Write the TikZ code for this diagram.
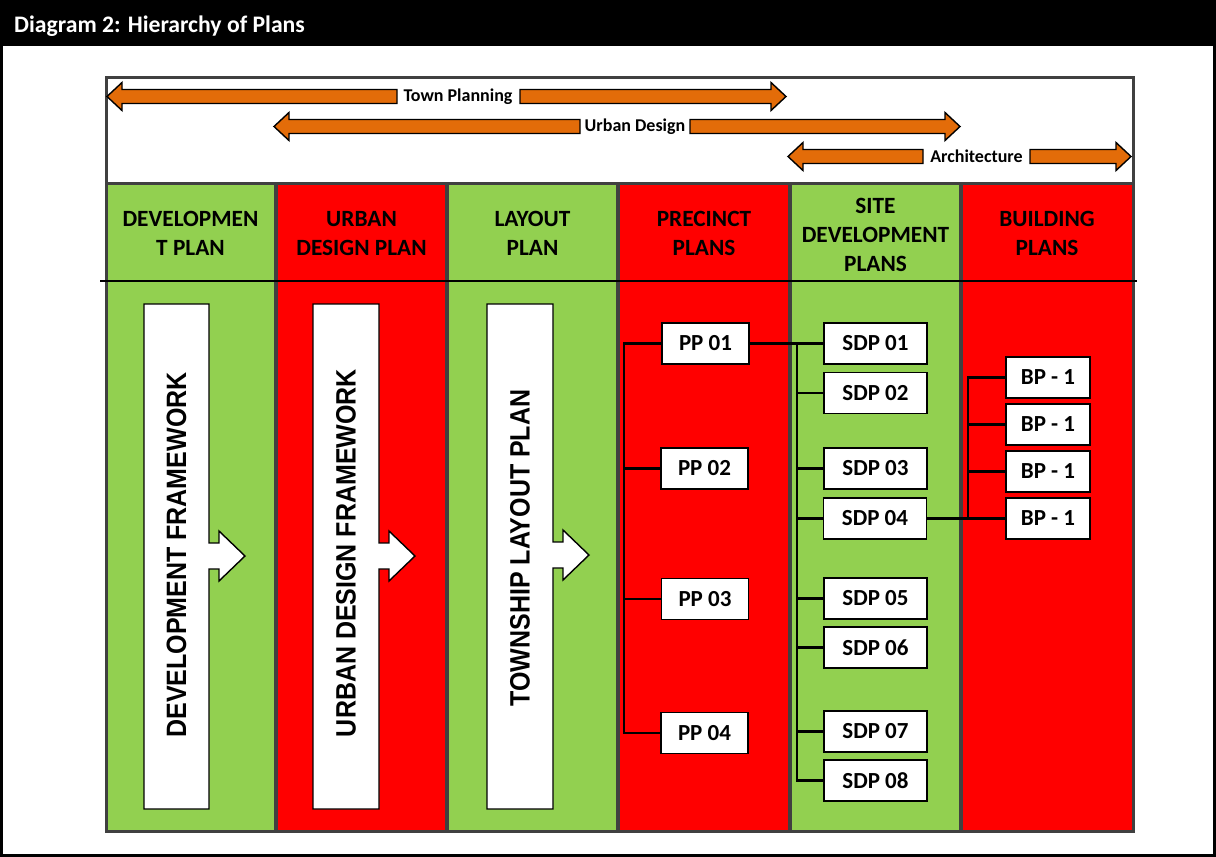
\documentclass[tikz,border=0pt]{standalone}
\usepackage{fontspec}
\setmainfont{Carlito}
\newfontfamily\arialf{Liberation Sans}
\definecolor{pgreen}{HTML}{92D050}
\definecolor{pred}{HTML}{FF0000}
\definecolor{porange}{HTML}{E36C09}
\definecolor{pgray}{HTML}{404040}
\tikzset{
  orangearrow/.style={fill=porange, draw=black, line width=1.4pt, line join=miter},
  colhead/.style={align=center, font=\fontsize{23.3}{29}\selectfont\bfseries, inner sep=0pt},
  bandlabel/.style={font=\fontsize{18}{20}\selectfont\bfseries, inner sep=0pt},
  planbox/.style={draw=black, fill=white, line width=1.8pt, minimum height=41pt, inner sep=0pt, font=\fontsize{23}{26}\selectfont\bfseries},
  ppbox/.style={planbox, minimum width=87pt},
  sdpbox/.style={planbox, minimum width=103pt},
  bpbox/.style={planbox, minimum width=84pt},
  link/.style={draw=black, line width=2.3pt},
  callout/.style={draw=black, fill=white, line width=1.4pt, line join=miter},
  vtext/.style={rotate=90, font=\arialf\bfseries\fontsize{25}{30}\selectfont, inner sep=0pt}
}
\newcommand{\leftpart}[3]{% tip x, end x, y
  \draw[orangearrow] (#1,#3) -- (#1+15,#3-14) -- (#1+15,#3-7) -- (#2,#3-7) -- (#2,#3+7) -- (#1+15,#3+7) -- (#1+15,#3+14) -- cycle;}
\newcommand{\rightpart}[3]{% tip x, start x, y
  \draw[orangearrow] (#1,#3) -- (#1-15,#3-14) -- (#1-15,#3-7) -- (#2,#3-7) -- (#2,#3+7) -- (#1-15,#3+7) -- (#1-15,#3+14) -- cycle;}
\newcommand{\bigcallout}[3]{% left x, right x, tip y
  \draw[callout] (#1,304) -- (#2,304) -- (#2,#3-13) -- (#2+10,#3-13) -- (#2+10,#3-25) -- (#2+36,#3) -- (#2+10,#3+25) -- (#2+10,#3+13) -- (#2,#3+13) -- (#2,809) -- (#1,809) -- cycle;}
\begin{document}
\begin{tikzpicture}[x=1pt,y=-1pt]
\useasboundingbox (0,0) rectangle (1216,857);
% frame and title
\fill[white] (0,0) rectangle (1216,857);
\fill[black] (0,0) rectangle (1216,46);
\draw[black, line width=3pt] (1.5,1.5) rectangle (1214.5,855.5);
\node[anchor=base west, text=white, font=\fontsize{23.7}{26}\selectfont\bfseries, inner sep=0pt] (title) at (14,32) {Diagram 2: Hierarchy of Plans};

% top band box
\draw[pgray, line width=3pt] (106,77) rectangle (1133,183);

% columns
\fill[pgreen] (106,183) rectangle (276,831);
\fill[pred]   (276,183) rectangle (447,831);
\fill[pgreen] (447,183) rectangle (618,831);
\fill[pred]   (618,183) rectangle (790,831);
\fill[pgreen] (790,183) rectangle (961,831);
\fill[pred]   (961,183) rectangle (1133,831);
\foreach \xx in {276,447,618,790,961} {\draw[pgray, line width=4pt] (\xx,183) -- (\xx,831);}
\draw[pgray, line width=3pt] (106,183) rectangle (1133,831);
\draw[black, line width=2pt] (100,281) -- (1137,281);

% band arrows
\leftpart{107}{397}{96.5}
\rightpart{786}{520}{96.5}
\node[bandlabel] (tp) at (458,96.5) {Town Planning};
\leftpart{274}{580}{126.5}
\rightpart{960}{690}{126.5}
\node[bandlabel] (ud) at (635,126.5) {Urban Design};
\leftpart{788}{923}{156.5}
\rightpart{1131}{1030}{156.5}
\node[bandlabel] (ar) at (976.5,156.5) {Architecture};

% column headers
\node[colhead] (h1) at (190.5,233.5) {DEVELOPMEN\\T PLAN};
\node[colhead] (h2) at (361.5,233.5) {URBAN\\DESIGN PLAN};
\node[colhead] (h3) at (532.5,233.5) {LAYOUT\\PLAN};
\node[colhead] (h4) at (704,233) {PRECINCT\\PLANS};
\node[colhead] (h5) at (875.5,235) {SITE\\DEVELOPMENT\\PLANS};
\node[colhead] (h6) at (1047,233.5) {BUILDING\\PLANS};

% big callouts
\bigcallout{144}{209}{556}
\node[vtext] (f1) at (176.5,555) {\scalebox{1}[1.12]{DEVELOPMENT FRAMEWORK}};
\bigcallout{313}{379}{556}
\node[vtext] (f2) at (346,553) {\scalebox{1}[1.12]{URBAN DESIGN FRAMEWORK}};
\bigcallout{487}{553}{555}
\node[vtext] (f3) at (520,548) {\scalebox{1}[1.12]{TOWNSHIP LAYOUT PLAN}};

% boxes
\node[ppbox] (pp1) at (705.5,343.5) {PP 01};
\node[ppbox] (pp2) at (704.5,468.5) {PP 02};
\node[ppbox] (pp3) at (705,599) {PP 03};
\node[ppbox] (pp4) at (704.5,733) {PP 04};
\node[sdpbox] (sdp1) at (875.5,343.5) {SDP 01};
\node[sdpbox] (sdp2) at (875.5,393) {SDP 02};
\node[sdpbox] (sdp3) at (875.5,468.5) {SDP 03};
\node[sdpbox] (sdp4) at (875,518.5) {SDP 04};
\node[sdpbox] (sdp5) at (875.5,598.5) {SDP 05};
\node[sdpbox] (sdp6) at (875.5,647.5) {SDP 06};
\node[sdpbox] (sdp7) at (875.5,731.5) {SDP 07};
\node[sdpbox] (sdp8) at (875.5,780.5) {SDP 08};
\node[bpbox] (bp1) at (1048,377.5) {BP - 1};
\node[bpbox] (bp2) at (1048,424.5) {BP - 1};
\node[bpbox] (bp3) at (1048,471.5) {BP - 1};
\node[bpbox] (bp4) at (1048,518.5) {BP - 1};

% connectors
\coordinate (ppbus) at (624,343.5);
\coordinate (sdpbus) at (797,343.5);
\coordinate (bpbus) at (968,377.5);
\draw[link] (pp1.west) -- (pp1.west -| ppbus) -- (pp4.west -| ppbus) -- (pp4.west);
\draw[link] (pp2.west) -- (pp2.west -| ppbus);
\draw[link] (pp3.west) -- (pp3.west -| ppbus);
\draw[link] (pp1.east) -- (sdp1.west);
\draw[link] (sdpbus) -- (sdp8.west -| sdpbus) -- (sdp8.west);
\foreach \n in {2,3,4,5,6,7} {\draw[link] (sdp\n.west) -- (sdp\n.west -| sdpbus);}
\draw[link] (sdp4.east) -- (bp4.west);
\draw[link] (bp1.west) -- (bp1.west -| bpbus) -- (bp4.west -| bpbus);
\draw[link] (bp2.west) -- (bp2.west -| bpbus);
\draw[link] (bp3.west) -- (bp3.west -| bpbus);
\end{tikzpicture}
\end{document}
